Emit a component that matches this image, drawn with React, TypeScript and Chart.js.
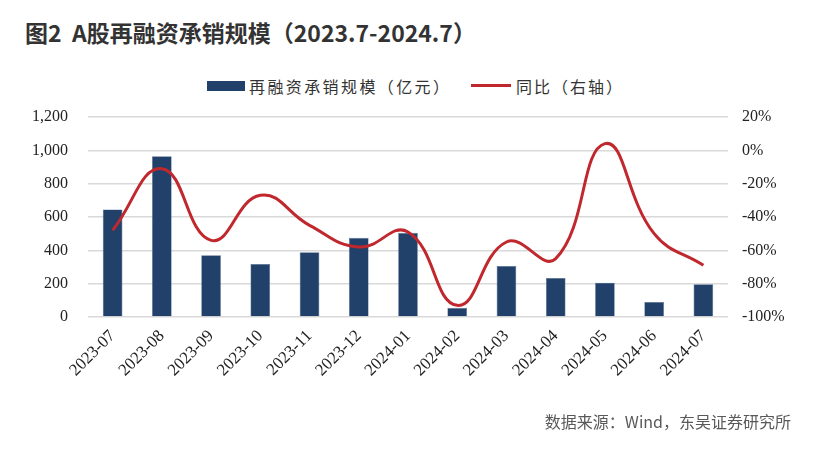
import React, { useEffect, useRef } from "react";
import { Chart, registerables } from "chart.js";

Chart.register(...registerables);

const categories = [
  "2023-07", "2023-08", "2023-09", "2023-10", "2023-11", "2023-12", "2024-01",
  "2024-02", "2024-03", "2024-04", "2024-05", "2024-06", "2024-07",
];
const issuance = [645, 965, 370, 318, 388, 475, 505, 55, 306, 234, 206, 90, 196];
const yoy = [-48, -11, -54, -27, -45, -58, -49, -93, -55, -65, 4, -50, -69];
const leftTicks = [0, 200, 400, 600, 800, 1000, 1200];
const rightTicks = [-100, -80, -60, -40, -20, 0, 20];

const titleText = "图2  A股再融资承销规模（2023.7-2024.7）";
const barLabel = "再融资承销规模（亿元）";
const lineLabel = "同比（右轴）";
const sourceText = "数据来源：Wind，东吴证券研究所";

const BAR_COLOR = "#21416b";
const LINE_COLOR = "#c0282e";
const CJK = '"Noto Sans CJK SC", "Noto Sans", sans-serif';
const SERIF = '"Liberation Serif", "Times New Roman", serif';

export default function App() {
  const ref = useRef<HTMLCanvasElement | null>(null);

  useEffect(() => {
    document.body.style.margin = "0";
    const ctx = ref.current;
    if (!ctx) return;
    const chart = new Chart(ctx, {
      data: {
        labels: categories,
        datasets: [
          {
            type: "line",
            label: lineLabel,
            data: yoy,
            yAxisID: "y1",
            borderColor: LINE_COLOR,
            borderWidth: 3,
            pointRadius: 0,
            tension: 0.45,
            fill: false,
            order: 0,
          },
          {
            type: "bar",
            label: barLabel,
            data: issuance,
            yAxisID: "y",
            backgroundColor: BAR_COLOR,
            borderColor: "#5a7092",
            borderWidth: 0.6,
            barPercentage: 0.4,
            categoryPercentage: 1,
            order: 1,
          },
        ],
      },
      options: {
        responsive: false,
        animation: false,
        layout: { padding: { top: 117, left: 0, right: 0, bottom: 0 } },
        plugins: {
          legend: { display: false },
          tooltip: { enabled: false },
          title: { display: false },
        },
        scales: {
          x: {
            type: "category",
            grid: { display: false, drawTicks: false },
            border: { display: false },
            ticks: {
              minRotation: 45,
              maxRotation: 45,
              padding: 9,
              color: "#222",
              font: { family: SERIF, size: 17 },
            },
            afterFit: (s: any) => {
              s.height = 132;
            },
          },
          y: {
            type: "linear",
            position: "left",
            min: 0,
            max: 1200,
            afterBuildTicks: (s: any) => {
              s.ticks = leftTicks.map((v) => ({ value: v }));
            },
            grid: { color: "#d9d9d9", lineWidth: 1.5, drawTicks: false },
            border: { display: false },
            ticks: {
              padding: 20,
              color: "#222",
              font: { family: SERIF, size: 16 },
              callback: (v: any) => Number(v).toLocaleString("en-US"),
            },
            afterFit: (s: any) => {
              s.width = 88;
            },
          },
          y1: {
            type: "linear",
            position: "right",
            min: -100,
            max: 20,
            afterBuildTicks: (s: any) => {
              s.ticks = rightTicks.map((v) => ({ value: v }));
            },
            grid: { display: false, drawTicks: false },
            border: { display: false },
            ticks: {
              padding: 14,
              color: "#222",
              font: { family: SERIF, size: 16 },
              callback: (v: any) => `${v}%`,
            },
            afterFit: (s: any) => {
              s.width = 101;
            },
          },
        },
      },
    } as any);
    return () => chart.destroy();
  }, []);

  return (
    <div style={{ position: "absolute", left: 0, top: 0, width: 829, height: 449, background: "#fff", overflow: "hidden" }}>
      <div
        style={{
          position: "absolute",
          left: 25,
          top: 16,
          fontFamily: CJK,
          fontWeight: 700,
          fontSize: 23,
          color: "#333",
          whiteSpace: "pre",
          lineHeight: "32px",
        }}
      >
        {titleText}
      </div>
      <div style={{ position: "absolute", left: 207, top: 81, width: 38, height: 10, background: BAR_COLOR }} />
      <div
        style={{ position: "absolute", left: 249, top: 74, fontFamily: CJK, fontSize: 16, color: "#333", lineHeight: "24px", whiteSpace: "pre", letterSpacing: 2.4 }}
      >
        {barLabel}
      </div>
      <div style={{ position: "absolute", left: 471, top: 84, width: 40, height: 3, background: LINE_COLOR }} />
      <div
        style={{ position: "absolute", left: 516, top: 74, fontFamily: CJK, fontSize: 16, color: "#333", lineHeight: "24px", whiteSpace: "pre", letterSpacing: 2 }}
      >
        {lineLabel}
      </div>
      <canvas ref={ref} width={829} height={449} style={{ position: "absolute", left: 0, top: 0, width: 829, height: 449 }} />
      <div
        style={{ position: "absolute", right: 38, top: 409, fontFamily: CJK, fontSize: 16, color: "#595959", lineHeight: "24px", whiteSpace: "pre" }}
      >
        {sourceText}
      </div>
    </div>
  );
}
